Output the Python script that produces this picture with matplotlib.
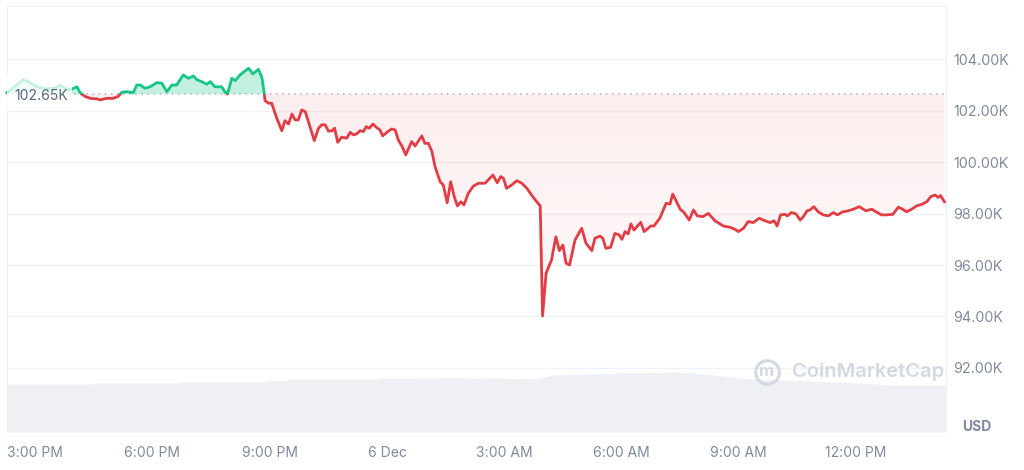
import numpy as np
import matplotlib
matplotlib.use('Agg')
from matplotlib import pyplot as plt
from matplotlib.patches import Rectangle
from matplotlib.path import Path
from matplotlib.colors import to_rgb

# BTC price, 24h window; time in hours after 3:00 PM (5 Dec), price in thousands USD
hours = [-0.72, -0.51, -0.31, -0.18, 0.05, 0.26, 0.51, 0.64, 0.77, 0.90,
         1.07, 1.15, 1.28, 1.41, 1.58, 1.66, 1.83, 1.99, 2.12, 2.22,
         2.35, 2.51, 2.60, 2.69, 2.81, 2.94, 3.11, 3.24, 3.37, 3.50,
         3.62, 3.79, 3.92, 4.05, 4.14, 4.26, 4.39, 4.48, 4.60, 4.77,
         4.86, 4.92, 5.03, 5.12, 5.24, 5.46, 5.57, 5.71, 5.80, 5.86,
         5.88, 5.97, 6.05, 6.18, 6.31, 6.39, 6.48, 6.57, 6.65, 6.73,
         6.82, 6.91, 7.03, 7.14, 7.25, 7.33, 7.42, 7.50, 7.59, 7.66,
         7.74, 7.84, 7.97, 8.06, 8.14, 8.23, 8.31, 8.40, 8.47, 8.55,
         8.64, 8.74, 8.82, 8.89, 8.99, 9.12, 9.21, 9.29, 9.38, 9.48,
         9.63, 9.72, 9.89, 9.97, 10.06, 10.15, 10.23, 10.36, 10.44, 10.54,
         10.63, 10.72, 10.80, 10.89, 10.97, 11.08, 11.21, 11.34, 11.51, 11.71,
         11.82, 11.91, 11.98, 12.06, 12.19, 12.32, 12.45, 12.58, 12.70, 12.83,
         12.92, 12.98, 13.07, 13.21, 13.32, 13.41, 13.50, 13.58, 13.67, 13.81,
         13.98, 14.09, 14.24, 14.32, 14.45, 14.52, 14.60, 14.72, 14.83, 14.94,
         15.01, 15.09, 15.17, 15.24, 15.32, 15.49, 15.58, 15.75, 15.83, 15.98,
         16.14, 16.24, 16.31, 16.50, 16.60, 16.73, 16.84, 16.94, 17.08, 17.22,
         17.39, 17.52, 17.60, 17.77, 17.90, 17.99, 18.12, 18.24, 18.37, 18.52,
         18.67, 18.80, 18.90, 18.98, 19.07, 19.18, 19.24, 19.35, 19.46, 19.57,
         19.65, 19.75, 19.82, 19.92, 20.03, 20.16, 20.29, 20.42, 20.52, 20.66,
         20.78, 20.93, 21.08, 21.25, 21.40, 21.51, 21.65, 21.78, 21.94, 22.08,
         22.19, 22.29, 22.42, 22.55, 22.68, 22.81, 22.91, 23.02, 23.10, 23.16,
         23.26]
price = [102.70, 102.96, 103.20, 103.13, 102.93, 102.85, 102.88, 103.00, 102.87, 102.81,
         102.93, 102.70, 102.55, 102.48, 102.46, 102.42, 102.48, 102.48, 102.55, 102.72,
         102.74, 102.70, 103.00, 103.00, 102.87, 102.93, 103.09, 103.07, 102.74, 103.00,
         103.00, 103.39, 103.26, 103.35, 103.20, 103.13, 103.03, 103.13, 102.93, 102.93,
         102.72, 102.65, 103.26, 103.17, 103.39, 103.65, 103.43, 103.61, 103.30, 102.68,
         102.39, 102.29, 102.29, 101.71, 101.22, 101.61, 101.48, 101.87, 101.64, 101.64,
         102.03, 101.96, 101.38, 100.84, 101.32, 101.45, 101.45, 101.21, 101.21, 101.32,
         100.77, 100.97, 100.93, 101.16, 101.06, 101.10, 101.22, 101.19, 101.38, 101.32,
         101.48, 101.34, 101.25, 101.02, 101.15, 101.29, 101.25, 100.86, 100.63, 100.28,
         100.80, 100.63, 101.02, 100.73, 100.73, 100.41, 99.82, 99.24, 99.11, 98.42,
         99.24, 98.66, 98.30, 98.46, 98.34, 98.79, 99.07, 99.18, 99.18, 99.50,
         99.20, 99.44, 99.37, 98.98, 99.11, 99.28, 99.18, 98.98, 98.72, 98.46,
         98.30, 94.02, 95.68, 96.20, 97.10, 96.56, 96.78, 96.07, 96.00, 96.97,
         97.43, 96.85, 96.56, 97.04, 97.13, 97.04, 96.65, 96.69, 97.23, 97.17,
         97.00, 97.30, 97.21, 97.60, 97.36, 97.66, 97.30, 97.52, 97.52, 97.82,
         98.40, 98.37, 98.76, 98.17, 98.04, 97.75, 98.14, 97.91, 97.88, 98.01,
         97.72, 97.60, 97.52, 97.47, 97.39, 97.30, 97.43, 97.69, 97.65, 97.82,
         97.72, 97.65, 97.72, 97.52, 97.95, 97.97, 97.91, 98.04, 97.99, 97.75,
         97.88, 98.11, 98.14, 98.27, 98.07, 97.95, 97.91, 98.04, 97.95, 98.07,
         98.10, 98.17, 98.27, 98.11, 98.17, 98.07, 97.95, 97.95, 97.97, 98.25,
         98.17, 98.07, 98.17, 98.30, 98.36, 98.46, 98.66, 98.72, 98.63, 98.70,
         98.46]
open_price = 102.65

# 24h volume (billions USD, rough read of the grey band)
vol_hours = [-0.72, 1.52, 1.53, 3.70, 3.71, 5.87, 5.88, 6.46, 6.47, 8.79,
             8.80, 10.79, 12.81, 13.22, 14.81, 16.39, 17.16, 17.98, 19.16, 20.5,
             22.0, 23.3]
volume = [84.5, 84.5, 86.2, 86.2, 88.0, 88.0, 90.3, 90.3, 93.3, 93.3,
          95.0, 95.6, 93.8, 100.3, 103.8, 105.6, 102.1, 95.0, 91.5, 88.0,
          82.7, 82.7]

tick_hours = [0, 3, 6, 9, 12, 15, 18, 21]
tick_labels = ['3:00 PM', '6:00 PM', '9:00 PM', '6 Dec', '3:00 AM',
               '6:00 AM', '9:00 AM', '12:00 PM']
price_ticks = [92, 94, 96, 98, 100, 102, 104]

green = '#16c784'
red = '#e23c44'
grey = '#808a9d'
gridc = '#eff2f5'

plt.rcParams['font.family'] = ['Inter', 'DejaVu Sans']

fig = plt.figure(figsize=(10.24, 4.70), dpi=100)
rect = [7 / 1024, 38 / 470, 939 / 1024, 426 / 470]
xlim = (-0.72, 23.30)
ylim = (89.51, 106.07)

# volume band underneath
axv = fig.add_axes(rect, zorder=0)
axv.fill_between(vol_hours, volume, 0, color='#eef0f4', lw=0)
axv.set_xlim(*xlim)
axv.set_ylim(0, 750)
axv.axis('off')

ax = fig.add_axes(rect, zorder=1)
ax.patch.set_alpha(0)

x = np.array(hours)
y = np.array(price)

# line: green above the open price, red below
up = Rectangle((xlim[0] - 5, open_price), 40, 30, transform=ax.transData)
down = Rectangle((xlim[0] - 5, open_price - 30), 40, 30, transform=ax.transData)
lg, = ax.plot(x, y, color=green, lw=2.0, zorder=3, solid_joinstyle='round')
lg.set_clip_path(up)
lr, = ax.plot(x, y, color=red, lw=2.0, zorder=3, solid_joinstyle='round')
lr.set_clip_path(down)

ax.fill_between(x, y, open_price, where=y >= open_price, interpolate=True,
                color=green, alpha=0.25, lw=0, zorder=1)
red_fill = ax.fill_between(x, y, open_price, where=y <= open_price,
                           interpolate=True, color='none', lw=0)
clip = Path.make_compound_path(*red_fill.get_paths())
n = 256
grad = np.zeros((n, 1, 4))
grad[..., :3] = to_rgb(red)
grad[:, 0, 3] = np.linspace(0.09, 0.02, n)
im = ax.imshow(grad, extent=(xlim[0], xlim[1], 93.5, open_price),
               aspect='auto', origin='upper', zorder=1, interpolation='bilinear')
im.set_clip_path(clip, ax.transData)

ax.axhline(open_price, color='#a6b0c3', lw=1.1, ls=(0, (1, 3)), zorder=2)

# open price label with a faded box behind it
ax.add_patch(Rectangle((xlim[0], 101.98), 0.93 - xlim[0], 1.37, facecolor='white',
                       alpha=0.75, edgecolor='none', zorder=4))
ax.text(-0.54, 102.57, '%.2fK' % open_price, ha='left', va='center',
        fontsize=10, color='#58667e', zorder=5)

ax.set_xlim(*xlim)
ax.set_ylim(*ylim)
ax.grid(axis='y', color=gridc, lw=1)
ax.set_axisbelow(True)
ax.yaxis.tick_right()
ax.set_yticks(price_ticks)
ax.set_yticklabels(['%.2fK' % p for p in price_ticks])
ax.set_xticks(tick_hours)
ax.set_xticklabels(tick_labels)
ax.tick_params(axis='y', length=0, pad=5, labelsize=10.3, labelcolor=grey)
ax.tick_params(axis='x', length=0, pad=10, labelsize=10, labelcolor=grey)
ax.spines['bottom'].set_visible(False)
for s in ['top', 'left', 'right']:
    ax.spines[s].set_color(gridc)

# watermark
ax.plot([0.809], [0.141], transform=ax.transAxes, marker='o', ms=17, mfc='none',
        mec='#d3d8e2', mew=2.2, zorder=2)
ax.text(0.809, 0.141, 'm', transform=ax.transAxes, ha='center', va='center',
        fontsize=12, fontweight='bold', color='#d3d8e2', zorder=2)
ax.text(0.836, 0.141, 'CoinMarketCap', transform=ax.transAxes, ha='left',
        va='center', fontsize=14.5, fontweight='semibold', color='#d3d8e2', zorder=2)

fig.text(977 / 1024, 1 - 427 / 470, 'USD', ha='center', va='center',
         fontsize=10, fontweight='bold', color=grey)

fig.savefig('out.png', dpi=100)
